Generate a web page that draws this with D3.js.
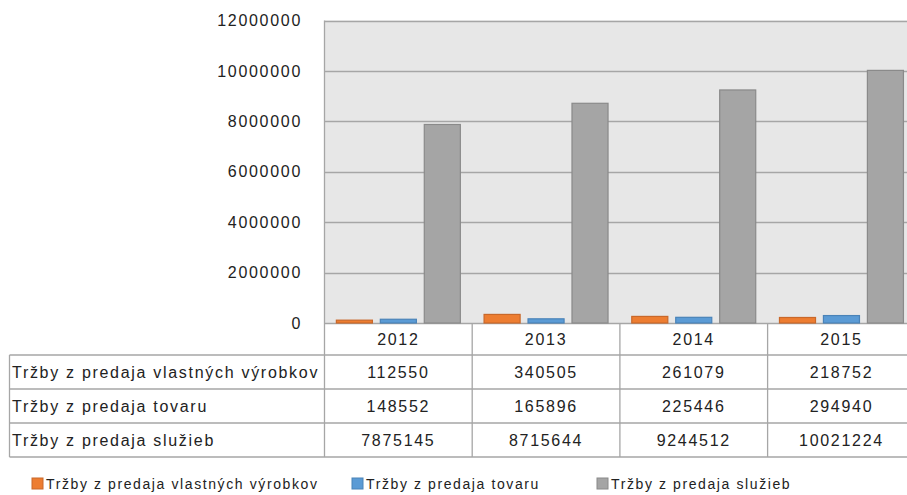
<!DOCTYPE html>
<html>
<head>
<meta charset="utf-8">
<script src="https://cdn.jsdelivr.net/npm/d3@7"></script>
<style>
  body { margin: 0; background: #fff; }
  svg { display: block; }
  text { font-family: "Liberation Sans", Arial, sans-serif; fill: #222; }
</style>
</head>
<body>
<div id="chart"></div>
<script>
// data
const years = ["2012", "2013", "2014", "2015"];
const seriesNames = ["Tržby z predaja vlastných výrobkov", "Tržby z predaja tovaru", "Tržby z predaja služieb"];
const vyrobky = [112550, 340505, 261079, 218752];
const tovar = [148552, 165896, 225446, 294940];
const sluzby = [7875145, 8715644, 9244512, 10021224];
const yTicks = [0, 2000000, 4000000, 6000000, 8000000, 10000000, 12000000];
const colors = ["#ED7D31", "#5B9BD5", "#A5A5A5"];
const strokes = ["#C9682A", "#4A83B8", "#8A8A8A"];

const allSeries = [vyrobky, tovar, sluzby];

const width = 907, height = 495;
const plot = {left: 324.5, right: 915.3, top: 20.5, bottom: 323};
const rowH = 34;
const tableLeft = 9.5;
const fontSize = "16px", spacing = "1.7px";

const svg = d3.select("#chart").append("svg")
    .attr("width", width)
    .attr("height", height);

let x = d3.scaleBand()
    .domain(years)
    .range([plot.left, plot.right])
    .padding(0)

let xInner = d3.scaleBand()
    .domain(d3.range(3))
    .range([0, x.bandwidth()])
    .paddingInner(0.18)
    .paddingOuter(0.27)

let y = d3.scaleLinear()
    .domain([0, 12000000])
    .range([plot.bottom, plot.top])

// plot background
svg.append("rect")
    .attr("x", plot.left)
    .attr("y", plot.top)
    .attr("width", plot.right - plot.left)
    .attr("height", plot.bottom - plot.top)
    .attr("fill", "#E7E7E7")

// gridlines
svg.append("g")
    .selectAll("line")
    .data(yTicks)
    .enter().append("line")
    .attr("x1", plot.left)
    .attr("x2", plot.right)
    .attr("y1", d => Math.round(y(d)) + 0.5)
    .attr("y2", d => Math.round(y(d)) + 0.5)
    .attr("stroke", "#A6A6A6")
    .attr("stroke-width", 1.3)

// y tick labels
svg.append("g")
    .selectAll("text")
    .data(yTicks)
    .enter().append("text")
    .attr("x", 302)
    .attr("y", d => y(d))
    .attr("dy", "0.35em")
    .attr("text-anchor", "end")
    .style("font-size", fontSize)
    .style("letter-spacing", spacing)
    .text(d => d)

// bars
const barData = [];
years.forEach((yr, i) => {
    allSeries.forEach((s, j) => barData.push({year: yr, series: j, value: s[i]}));
});

svg.append("g")
    .selectAll("rect")
    .data(barData)
    .enter().append("rect")
    .attr("x", d => x(d.year) + xInner(d.series))
    .attr("y", d => y(d.value))
    .attr("width", xInner.bandwidth())
    .attr("height", d => y(0) - y(d.value))
    .attr("fill", d => colors[d.series])
    .attr("stroke", d => strokes[d.series])
    .attr("stroke-width", 1.2)

// plot left border
svg.append("line")
    .attr("x1", plot.left).attr("x2", plot.left)
    .attr("y1", plot.top).attr("y2", plot.bottom + rowH * 4 - 2)
    .attr("stroke", "#A6A6A6")
    .attr("stroke-width", 1.3)

// data table
const tableBottom = plot.bottom + 32 + rowH * 3;
const table = svg.append("g")

// horizontal lines
const rowLines = [plot.bottom + 32, plot.bottom + 32 + rowH, plot.bottom + 32 + rowH * 2, tableBottom];
table.selectAll(".hline")
    .data(rowLines)
    .enter().append("line")
    .attr("class", "hline")
    .attr("x1", tableLeft)
    .attr("x2", plot.right)
    .attr("y1", d => d)
    .attr("y2", d => d)
    .attr("stroke", "#A6A6A6")
    .attr("stroke-width", 1.3)

// vertical lines
table.append("line")
    .attr("x1", tableLeft).attr("x2", tableLeft)
    .attr("y1", rowLines[0]).attr("y2", tableBottom)
    .attr("stroke", "#A6A6A6").attr("stroke-width", 1.3)

table.selectAll(".vline")
    .data(years)
    .enter().append("line")
    .attr("class", "vline")
    .attr("x1", d => x(d) + x.bandwidth())
    .attr("x2", d => x(d) + x.bandwidth())
    .attr("y1", plot.bottom)
    .attr("y2", tableBottom)
    .attr("stroke", "#A6A6A6").attr("stroke-width", 1.3)

// year headers
table.selectAll(".yearLabel")
    .data(years)
    .enter().append("text")
    .attr("class", "yearLabel")
    .attr("x", d => x(d) + x.bandwidth() / 2)
    .attr("y", plot.bottom + 16)
    .attr("dy", "0.35em")
    .attr("text-anchor", "middle")
    .style("font-size", fontSize)
    .style("letter-spacing", spacing)
    .text(d => d)

// row labels and values
seriesNames.forEach((name, j) => {
    const cy = rowLines[j] + rowH / 2;
    table.append("text")
        .attr("x", 12)
        .attr("y", cy)
        .attr("dy", "0.35em")
        .style("font-size", fontSize)
        .style("letter-spacing", spacing)
        .text(name)
    table.selectAll(".val" + j)
        .data(years)
        .enter().append("text")
        .attr("x", d => x(d) + x.bandwidth() / 2)
        .attr("y", cy)
        .attr("dy", "0.35em")
        .attr("text-anchor", "middle")
        .style("font-size", fontSize)
        .style("letter-spacing", spacing)
        .text((d, i) => allSeries[j][i])
});

// legend
const legendX = [32, 352, 597];
const legend = svg.append("g")
legend.selectAll("rect")
    .data(seriesNames)
    .enter().append("rect")
    .attr("x", (d, i) => legendX[i])
    .attr("y", 478)
    .attr("width", 11)
    .attr("height", 11)
    .attr("fill", (d, i) => colors[i])
    .attr("stroke", (d, i) => strokes[i])

legend.selectAll("text")
    .data(seriesNames)
    .enter().append("text")
    .attr("x", (d, i) => legendX[i] + 14)
    .attr("y", 484)
    .attr("dy", "0.35em")
    .style("font-size", "14px")
    .style("letter-spacing", "1.6px")
    .text(d => d)
</script>
</body>
</html>
